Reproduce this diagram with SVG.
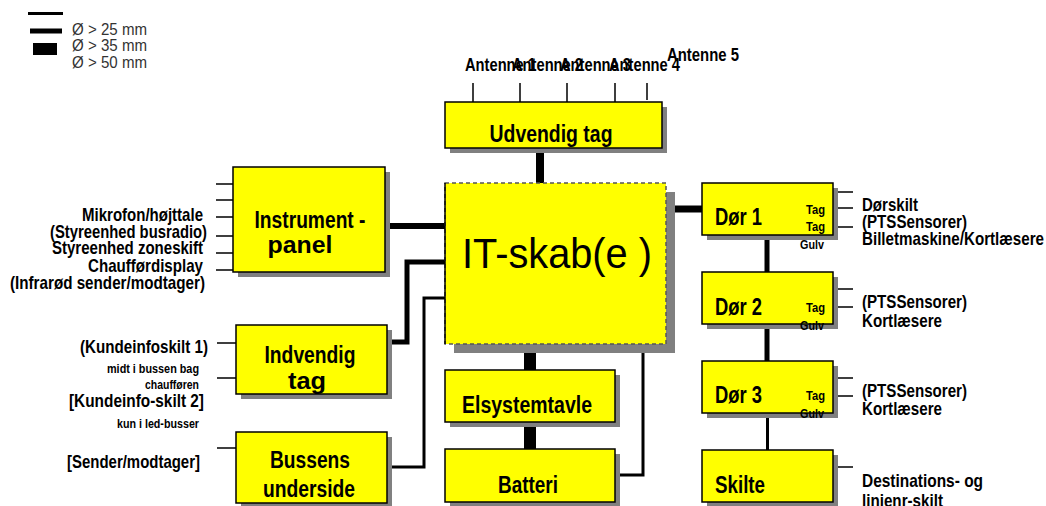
<svg xmlns="http://www.w3.org/2000/svg" width="1046" height="506" viewBox="0 0 1046 506">
<style>
.box{fill:#ffff00;stroke:#000;stroke-width:1.5}
.sh{fill:#808080}
.t{font-family:"Liberation Sans",Arial,sans-serif;fill:#000;font-weight:bold}
.ti{font-size:23.5px;text-anchor:middle}
.lb{font-size:18.5px}
.r{text-anchor:end}
.sm{font-size:12.5px}
.xs{font-size:12.5px}
.lg{font-family:"Liberation Sans",Arial,sans-serif;font-size:16px;fill:#333}
.tk{stroke:#000;stroke-width:1.5;fill:none}
.c{stroke:#000;fill:none}
</style>
<rect width="1046" height="506" fill="#fff"/>
<g id="legend">
<rect x="28" y="12" width="35" height="3" fill="#000"/>
<rect x="30" y="28.5" width="32" height="5" fill="#000"/>
<rect x="33" y="43" width="24" height="12" fill="#000"/>
<text class="lg" x="72" y="35" textLength="75" lengthAdjust="spacingAndGlyphs">Ø &gt; 25 mm</text>
<text class="lg" x="72" y="51" textLength="75" lengthAdjust="spacingAndGlyphs">Ø &gt; 35 mm</text>
<text class="lg" x="72" y="68" textLength="75" lengthAdjust="spacingAndGlyphs">Ø &gt; 50 mm</text>
</g>
<g id="connectors">
<line class="c" x1="540" y1="150" x2="540" y2="184" stroke-width="8"/>
<line class="c" x1="390" y1="226" x2="447" y2="226" stroke-width="6"/>
<polyline class="c" points="446,262 407,262 407,342 392,342" stroke-width="5"/>
<polyline class="c" points="446,298 424,298 424,467 392,467" stroke-width="3"/>
<line class="c" x1="530" y1="344" x2="530" y2="371" stroke-width="12"/>
<line class="c" x1="530" y1="422" x2="530" y2="450" stroke-width="12"/>
<polyline class="c" points="620,475 643,475 643,353" stroke-width="3"/>
<line class="c" x1="674" y1="209" x2="703" y2="209" stroke-width="7"/>
<line class="c" x1="767" y1="235" x2="767" y2="273" stroke-width="5"/>
<line class="c" x1="767" y1="324" x2="767" y2="362" stroke-width="5"/>
<line class="c" x1="767.5" y1="413" x2="767.5" y2="451" stroke-width="3"/>
</g>
<g id="udvendig-tag">
<path class="tk" d="M473 83V102M520 83V102M567 83V102M615 83V102M647 83V100"/>
<text class="t lb" x="465" y="71" textLength="71" lengthAdjust="spacingAndGlyphs">Antenne 1</text>
<text class="t lb" x="512" y="71" textLength="71" lengthAdjust="spacingAndGlyphs">Antenne 2</text>
<text class="t lb" x="560" y="71" textLength="71" lengthAdjust="spacingAndGlyphs">Antenne 3</text>
<text class="t lb" x="609" y="71" textLength="71" lengthAdjust="spacingAndGlyphs">Antenne 4</text>
<text class="t lb" x="667" y="61" textLength="72" lengthAdjust="spacingAndGlyphs">Antenne 5</text>
<rect class="sh" x="450" y="107" width="217" height="46"/>
<rect class="box" x="445" y="102" width="217" height="46"/>
<text class="t ti" x="551" y="142" textLength="123" lengthAdjust="spacingAndGlyphs">Udvendig tag</text>
</g>
<g id="instrumentpanel">
<path class="tk" d="M216 184H233M216 200H233M216 217H233M216 236H233M216 253H233M216 270H233"/>
<text class="t lb r" x="203" y="221" textLength="121" lengthAdjust="spacingAndGlyphs">Mikrofon/højttale</text>
<text class="t lb r" x="207" y="238" textLength="157" lengthAdjust="spacingAndGlyphs">(Styreenhed busradio)</text>
<text class="t lb r" x="203" y="254" textLength="151" lengthAdjust="spacingAndGlyphs">Styreenhed zoneskift</text>
<text class="t lb r" x="203" y="272" textLength="115" lengthAdjust="spacingAndGlyphs">Chaufførdisplay</text>
<text class="t lb r" x="205" y="289" textLength="195" lengthAdjust="spacingAndGlyphs">(Infrarød sender/modtager)</text>
<rect class="sh" x="238" y="172" width="152" height="105"/>
<rect class="box" x="233" y="167" width="152" height="105"/>
<text class="t ti" x="310" y="228" textLength="111" lengthAdjust="spacingAndGlyphs">Instrument -</text>
<text class="t ti" x="300" y="253" textLength="65" lengthAdjust="spacingAndGlyphs">panel</text>
</g>
<g id="indvendig-tag">
<path class="tk" d="M217 343H236M217 378H236"/>
<text class="t lb r" x="208" y="353" textLength="128" lengthAdjust="spacingAndGlyphs">(Kundeinfoskilt 1)</text>
<text class="t sm r" x="199" y="373" textLength="92" lengthAdjust="spacingAndGlyphs">midt i bussen bag</text>
<text class="t sm r" x="199" y="389" textLength="54" lengthAdjust="spacingAndGlyphs">chaufføren</text>
<text class="t lb r" x="204" y="407" textLength="135" lengthAdjust="spacingAndGlyphs">[Kundeinfo-skilt 2]</text>
<text class="t sm r" x="199" y="428" textLength="82" lengthAdjust="spacingAndGlyphs">kun i  led-busser</text>
<rect class="sh" x="241" y="330" width="151" height="69"/>
<rect class="box" x="236" y="325" width="151" height="69"/>
<text class="t ti" x="310" y="363" textLength="91" lengthAdjust="spacingAndGlyphs">Indvendig</text>
<text class="t ti" x="307" y="389" textLength="38" lengthAdjust="spacingAndGlyphs">tag</text>
</g>
<g id="bussens-underside">
<path class="tk" d="M217 448H236"/>
<text class="t lb r" x="200" y="468" textLength="133" lengthAdjust="spacingAndGlyphs">[Sender/modtager]</text>
<rect class="sh" x="241" y="437" width="151" height="71"/>
<rect class="box" x="236" y="432" width="151" height="71"/>
<text class="t ti" x="310" y="468" textLength="80" lengthAdjust="spacingAndGlyphs">Bussens</text>
<text class="t ti" x="309" y="497" textLength="92" lengthAdjust="spacingAndGlyphs">underside</text>
</g>
<g id="it-skab">
<rect class="sh" x="454" y="192" width="221" height="161"/>
<rect x="445" y="183" width="221" height="161" fill="#ffff00" stroke="#555" stroke-width="1.5" stroke-dasharray="4,3"/>
<line x1="445" y1="183" x2="445" y2="344" stroke="#000" stroke-width="1.5"/>
<text x="462" y="268" font-family="Liberation Sans, Arial, sans-serif" font-size="42" textLength="190" lengthAdjust="spacingAndGlyphs">IT-skab(e )</text>
</g>
<g id="elsystemtavle">
<rect class="sh" x="450" y="375" width="170" height="52"/>
<rect class="box" x="445" y="370" width="170" height="52"/>
<text class="t ti" x="527" y="413" textLength="130" lengthAdjust="spacingAndGlyphs">Elsystemtavle</text>
</g>
<g id="batteri">
<rect class="sh" x="450" y="454" width="170" height="53"/>
<rect class="box" x="445" y="449" width="170" height="53"/>
<text class="t ti" x="528" y="493" textLength="60" lengthAdjust="spacingAndGlyphs">Batteri</text>
</g>
<g id="dor1">
<path class="tk" d="M833 192H853M833 208H853M833 227H853"/>
<rect class="sh" x="707" y="188" width="131" height="52"/>
<rect class="box" x="702" y="183" width="131" height="52"/>
<text class="t ti" x="715" y="225" style="text-anchor:start" textLength="47" lengthAdjust="spacingAndGlyphs">Dør 1</text>
<text class="t xs" x="806" y="214" textLength="19" lengthAdjust="spacingAndGlyphs">Tag</text>
<text class="t xs" x="806" y="231" textLength="19" lengthAdjust="spacingAndGlyphs">Tag</text>
<text class="t xs" x="800" y="249" textLength="24" lengthAdjust="spacingAndGlyphs">Gulv</text>
<text class="t lb" x="862" y="211" textLength="56" lengthAdjust="spacingAndGlyphs">Dørskilt</text>
<text class="t lb" x="862" y="228" textLength="105" lengthAdjust="spacingAndGlyphs">(PTSSensorer)</text>
<text class="t lb" x="862" y="245" textLength="182" lengthAdjust="spacingAndGlyphs">Billetmaskine/Kortlæsere</text>
</g>
<g id="dor2">
<path class="tk" d="M833 289H853M833 307H853"/>
<rect class="sh" x="707" y="277" width="131" height="52"/>
<rect class="box" x="702" y="272" width="131" height="52"/>
<text class="t ti" x="715" y="315" style="text-anchor:start" textLength="47" lengthAdjust="spacingAndGlyphs">Dør 2</text>
<text class="t xs" x="806" y="312" textLength="19" lengthAdjust="spacingAndGlyphs">Tag</text>
<text class="t xs" x="800" y="330" textLength="24" lengthAdjust="spacingAndGlyphs">Gulv</text>
<text class="t lb" x="862" y="308" textLength="105" lengthAdjust="spacingAndGlyphs">(PTSSensorer)</text>
<text class="t lb" x="862" y="327" textLength="80" lengthAdjust="spacingAndGlyphs">Kortlæsere</text>
</g>
<g id="dor3">
<path class="tk" d="M833 378H853M833 396H853"/>
<rect class="sh" x="707" y="366" width="131" height="52"/>
<rect class="box" x="702" y="361" width="131" height="52"/>
<text class="t ti" x="715" y="403" style="text-anchor:start" textLength="47" lengthAdjust="spacingAndGlyphs">Dør 3</text>
<text class="t xs" x="806" y="400" textLength="19" lengthAdjust="spacingAndGlyphs">Tag</text>
<text class="t xs" x="800" y="418" textLength="24" lengthAdjust="spacingAndGlyphs">Gulv</text>
<text class="t lb" x="862" y="397" textLength="105" lengthAdjust="spacingAndGlyphs">(PTSSensorer)</text>
<text class="t lb" x="862" y="415" textLength="80" lengthAdjust="spacingAndGlyphs">Kortlæsere</text>
</g>
<g id="skilte">
<path class="tk" d="M833 467H853"/>
<rect class="sh" x="707" y="455" width="131" height="52"/>
<rect class="box" x="702" y="450" width="131" height="52"/>
<text class="t ti" x="715" y="493" style="text-anchor:start" textLength="50" lengthAdjust="spacingAndGlyphs">Skilte</text>
<text class="t lb" x="862" y="487" textLength="121" lengthAdjust="spacingAndGlyphs">Destinations- og</text>
<text class="t lb" x="862" y="507" textLength="81" lengthAdjust="spacingAndGlyphs">linienr-skilt</text>
</g>
</svg>
